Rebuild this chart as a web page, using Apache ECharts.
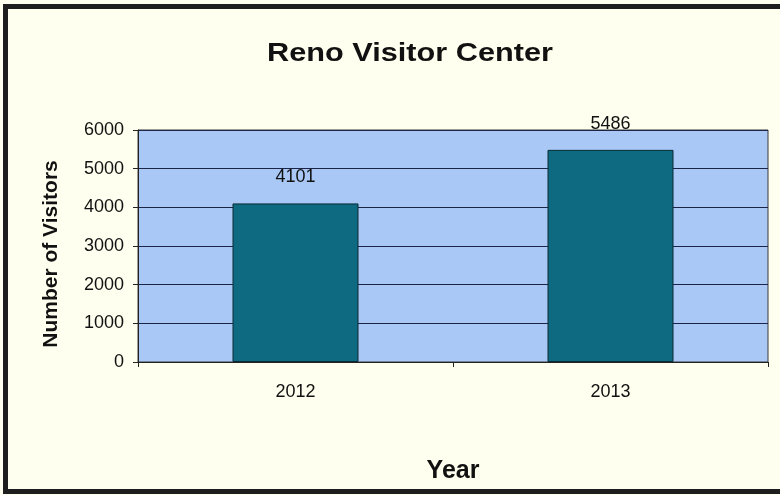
<!DOCTYPE html>
<html>
<head>
<meta charset="utf-8">
<title>Reno Visitor Center</title>
<script src="https://cdn.jsdelivr.net/npm/echarts@6/dist/echarts.min.js"></script>
<style>
  html, body { margin: 0; padding: 0; background: #ffffff; }
  #chart { width: 780px; height: 495px; }
</style>
</head>
<body>
<div id="chart"></div>
<script>
// Yearly visitor counts
const years = ['2012', '2013'];
const visitors = [4101, 5486];
const yTicks = { min: 0, max: 6000, step: 1000 };

const font = '"Liberation Sans", Arial, sans-serif';
const chart = echarts.init(document.getElementById('chart'), null, { renderer: 'canvas' });

chart.setOption({
  backgroundColor: '#ffffef',
  animation: false,
  graphic: [
    // outer frame
    {
      type: 'rect',
      silent: true,
      z: 100,
      shape: { x: 5.5, y: 6.5, width: 790, height: 485 },
      style: { fill: 'none', stroke: '#1e1e1e', lineWidth: 5 }
    },
    // heading, slightly widened
    {
      type: 'text',
      silent: true,
      x: 410,
      y: 54,
      scaleX: 1.18,
      style: {
        text: 'Reno Visitor Center',
        fontFamily: font,
        fontSize: 26,
        fontWeight: 'bold',
        fill: '#111',
        align: 'center',
        verticalAlign: 'middle'
      }
    }
  ],
  grid: {
    left: 138,
    right: 12,
    top: 130,
    bottom: 133,
    show: true,
    backgroundColor: '#a9c8f5',
    borderColor: '#3a3a3a',
    borderWidth: 1
  },
  xAxis: {
    type: 'category',
    data: years,
    name: 'Year',
    nameLocation: 'middle',
    nameGap: 97,
    nameTextStyle: { fontFamily: font, fontSize: 25, fontWeight: 'bold', color: '#111' },
    axisLine: { show: true, lineStyle: { color: '#222', width: 1 } },
    axisTick: { show: true, length: 5, alignWithLabel: false, lineStyle: { color: '#222' } },
    axisLabel: { fontFamily: font, fontSize: 18, color: '#111', margin: 21 },
    splitLine: { show: false }
  },
  yAxis: {
    type: 'value',
    min: yTicks.min,
    max: yTicks.max,
    interval: yTicks.step,
    name: 'Number of Visitors',
    nameLocation: 'middle',
    nameRotate: 90,
    nameGap: 76,
    nameTextStyle: {
      fontFamily: font,
      fontSize: 21,
      fontWeight: 'bold',
      color: '#111',
      padding: [0, 16, 0, 0]
    },
    axisLine: { show: true, lineStyle: { color: '#222', width: 1 } },
    axisTick: { show: true, length: 5, lineStyle: { color: '#222' } },
    axisLabel: {
      fontFamily: font,
      fontSize: 18,
      color: '#111',
      margin: 14,
      formatter: (v) => String(v)
    },
    splitLine: { show: true, lineStyle: { color: '#1c2448', width: 1 } }
  },
  series: [
    {
      type: 'bar',
      data: visitors,
      barWidth: '40%',
      itemStyle: { color: '#0e6a80', borderColor: '#0a2a35', borderWidth: 1 },
      label: {
        show: true,
        position: 'top',
        distance: 17,
        fontFamily: font,
        fontSize: 18,
        color: '#111'
      }
    }
  ]
});
</script>
</body>
</html>
